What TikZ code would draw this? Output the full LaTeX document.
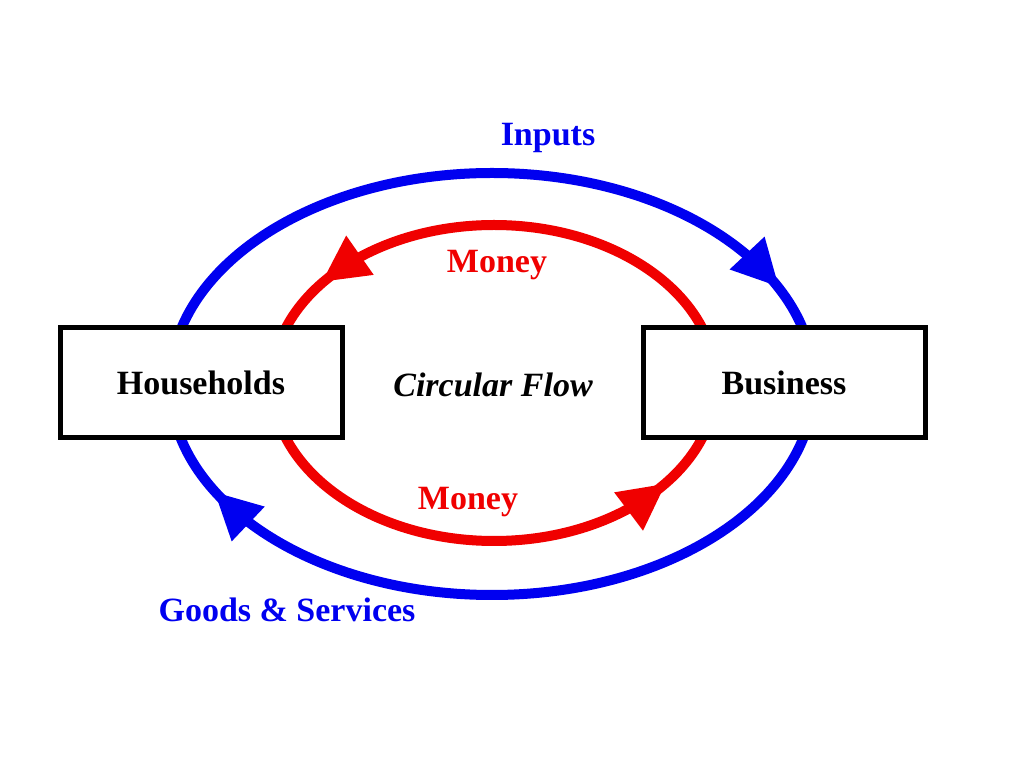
\documentclass[tikz,border=0pt]{standalone}
\usepackage{fontspec}
\setmainfont{Liberation Serif}
\definecolor{fblue}{RGB}{0,0,240}
\definecolor{fred}{RGB}{240,0,0}
\begin{document}
\begin{tikzpicture}[x=1pt,y=1pt,
  lbl/.style={font=\fontsize{34}{38}\selectfont\bfseries},
  box/.style={draw=black,line width=5pt,fill=white,minimum width=282pt,minimum height=110pt,font=\fontsize{34}{38}\selectfont\bfseries},
  head/.style={line join=miter}]
\useasboundingbox (0,0) rectangle (1024,768);
\fill[white] (0,0) rectangle (1024,768);
\coordinate (cb) at (492,384);
\coordinate (cr) at (494,385);
\draw[fblue,line width=10pt] (cb) ellipse [x radius=322, y radius=211];
\draw[fred,line width=10pt] (cr) ellipse [x radius=222, y radius=158];
% arrowheads
\fill[fblue,shift={(cb)},shift={(31.6:322 and 211)},rotate=-46.8] (18,0) -- (-28,24) -- (-28,-24) -- cycle;
\fill[fblue,shift={(cb)},shift={(214.9:322 and 211)},rotate=136.5] (18,0) -- (-28,24) -- (-28,-24) -- cycle;
\fill[fred,shift={(cr)},shift={(135:222 and 158)},rotate=215] (18,0) -- (-28,24) -- (-28,-24) -- cycle;
\fill[fred,shift={(cr)},shift={(-45:222 and 158)},rotate=36.9] (18,0) -- (-28,24) -- (-28,-24) -- cycle;
\node[box] (hh) at (201,385) {Households};
\node[box] (bus) at (784,385) {Business};
\node[lbl,text=fblue] (inp) at (548,630) {Inputs};
\node[lbl,text=fred] (m1) at (497,503) {Money};
\node[lbl,text=fred] (m2) at (468,266) {Money};
\node[lbl,text=fblue] (gs) at (287,158) {Goods \& Services};
\node[lbl,font=\fontsize{34}{38}\selectfont\bfseries\itshape] (cf) at (493,383) {Circular Flow};
\end{tikzpicture}
\end{document}
